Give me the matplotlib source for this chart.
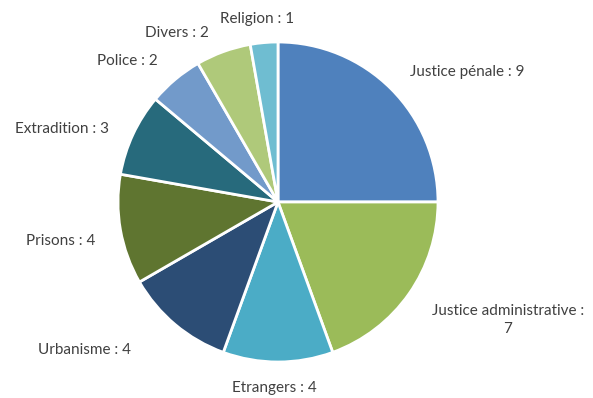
import matplotlib.pyplot as plt

labels = ["Justice pénale", "Justice administrative", "Etrangers", "Urbanisme",
          "Prisons", "Extradition", "Police", "Divers", "Religion"]
values = [9, 7, 4, 4, 4, 3, 2, 2, 1]
colors = ["#4F81BD", "#9BBB59", "#4BACC6", "#2C4D75", "#5F7530",
          "#276A7C", "#729ACA", "#AFC97A", "#6FBDD1"]
# label texts and where they sit (image pixels, from top-left)
texts = ["Justice pénale : 9", "Justice administrative :\n7", "Etrangers : 4",
         "Urbanisme : 4", "Prisons : 4", "Extradition : 3", "Police : 2",
         "Divers : 2", "Religion : 1"]
text_pos = [(467, 72), (508, 320), (274, 388), (84, 350), (61, 241),
            (62, 129), (127, 61), (177, 33), (257, 19)]

W, H = 593, 398
fig = plt.figure(figsize=(W / 100, H / 100), dpi=100)
ax = fig.add_axes([0, 0, 1, 1])
ax.set_xlim(0, W)
ax.set_ylim(0, H)
ax.set_aspect("equal")
ax.axis("off")

ax.pie(values, colors=colors, startangle=90, counterclock=False,
       center=(278, H - 202), radius=160,
       wedgeprops=dict(edgecolor="white", linewidth=2))
ax.set_xlim(0, W)
ax.set_ylim(0, H)

for t, (x, y) in zip(texts, text_pos):
    ax.text(x, H - y, t, ha="center", va="center", fontsize=11,
            family="Lato", color="#404040", linespacing=1.35)

fig.savefig("out.png", dpi=100)
